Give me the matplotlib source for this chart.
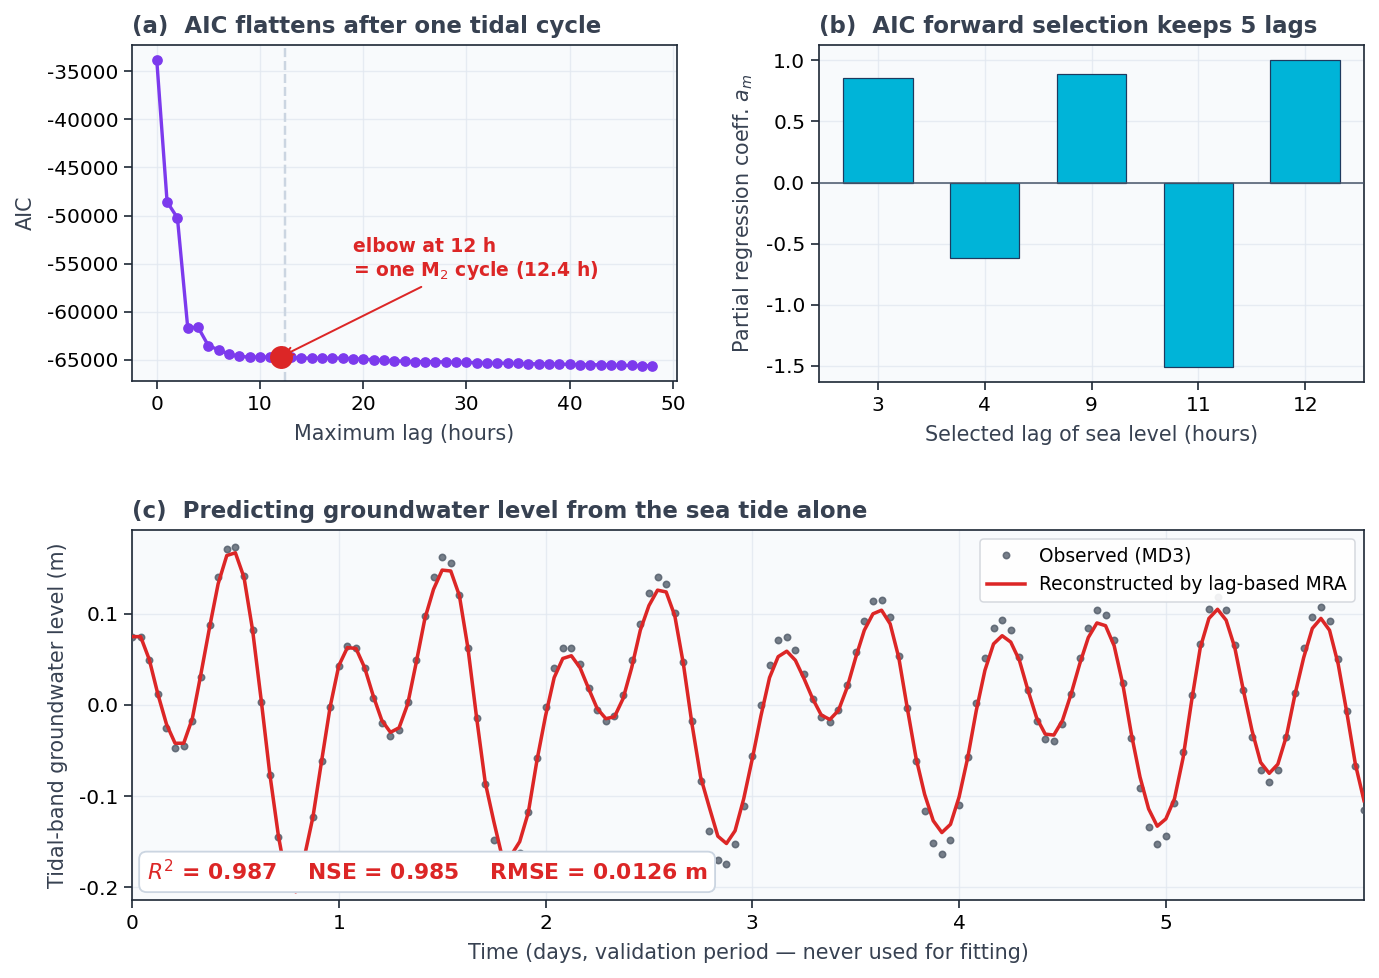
import numpy as np
import matplotlib.pyplot as plt

plt.rcParams['font.family'] = ['DejaVu Sans']
plt.rcParams['axes.unicode_minus'] = False

# panel (a): AIC vs maximum lag
max_lag = list(range(49))
aic = [-33850, -48580, -50240, -61670, -61620, -63540, -63960, -64410, -64650, -64720,
       -64720, -64720, -64700, -64760, -64830, -64830, -64830, -64830, -64830, -64900,
       -64930, -65000, -65070, -65100, -65170, -65200, -65200, -65200, -65240, -65280,
       -65280, -65310, -65350, -65350, -65350, -65380, -65420, -65420, -65420, -65450,
       -65480, -65520, -65520, -65520, -65550, -65590, -65590, -65620, -65620]
elbow_lag = 12
m2_period = 12.4

# panel (b): selected lags and coefficients
sel_lags = ['3', '4', '9', '11', '12']
coefs = [0.856, -0.617, 0.889, -1.506, 1.0]

# panel (c): hourly validation series
hours = np.arange(144)
observed = [0.075, 0.075, 0.049, 0.012, -0.025, -0.047, -0.045, -0.018, 0.031, 0.088,
            0.140, 0.171, 0.173, 0.142, 0.082, 0.003, -0.077, -0.145, -0.200, -0.222,
            -0.185, -0.123, -0.062, -0.002, 0.043, 0.065, 0.063, 0.041, 0.008, -0.020,
            -0.034, -0.027, 0.003, 0.049, 0.098, 0.140, 0.162, 0.156, 0.121, 0.062,
            -0.014, -0.087, -0.148, -0.180, -0.178, -0.162, -0.117, -0.058, -0.002, 0.041,
            0.063, 0.063, 0.045, 0.019, -0.006, -0.018, -0.012, 0.011, 0.049, 0.089,
            0.123, 0.140, 0.133, 0.101, 0.047, -0.018, -0.083, -0.138, -0.170, -0.175,
            -0.153, -0.111, -0.056, 0.000, 0.044, 0.071, 0.075, 0.060, 0.034, 0.007,
            -0.013, -0.019, -0.005, 0.022, 0.058, 0.092, 0.114, 0.115, 0.096, 0.054,
            -0.003, -0.062, -0.116, -0.152, -0.164, -0.148, -0.110, -0.057, 0.002, 0.051,
            0.084, 0.093, 0.082, 0.053, 0.016, -0.018, -0.037, -0.040, -0.021, 0.012,
            0.052, 0.085, 0.104, 0.099, 0.071, 0.024, -0.036, -0.091, -0.134, -0.153,
            -0.144, -0.108, -0.052, 0.011, 0.067, 0.105, 0.119, 0.104, 0.066, 0.016,
            -0.035, -0.071, -0.084, -0.071, -0.035, 0.013, 0.062, 0.097, 0.108, 0.092,
            0.050, -0.007, -0.067, -0.115]
reconstructed = [0.075, 0.075, 0.050, 0.012, -0.021, -0.042, -0.042, -0.015, 0.034, 0.085,
                 0.133, 0.164, 0.167, 0.140, 0.082, 0.005, -0.076, -0.144, -0.195, -0.205,
                 -0.167, -0.123, -0.062, -0.002, 0.043, 0.063, 0.062, 0.041, 0.010, -0.017,
                 -0.030, -0.025, 0.001, 0.047, 0.095, 0.127, 0.148, 0.147, 0.120, 0.062,
                 -0.014, -0.085, -0.128, -0.168, -0.165, -0.150, -0.118, -0.061, -0.012, 0.030,
                 0.051, 0.054, 0.041, 0.018, -0.004, -0.015, -0.013, 0.007, 0.041, 0.082,
                 0.109, 0.126, 0.124, 0.098, 0.045, -0.021, -0.079, -0.112, -0.144, -0.152,
                 -0.138, -0.103, -0.059, -0.012, 0.030, 0.053, 0.059, 0.049, 0.029, 0.007,
                 -0.011, -0.016, -0.006, 0.019, 0.052, 0.082, 0.100, 0.104, 0.089, 0.052,
                 -0.004, -0.058, -0.098, -0.127, -0.140, -0.131, -0.101, -0.058, -0.006, 0.038,
                 0.067, 0.076, 0.069, 0.049, 0.016, -0.014, -0.032, -0.033, -0.017, 0.012,
                 0.045, 0.074, 0.090, 0.087, 0.065, 0.023, -0.032, -0.079, -0.114, -0.133,
                 -0.125, -0.103, -0.058, 0.005, 0.063, 0.095, 0.105, 0.093, 0.063, 0.016,
                 -0.028, -0.063, -0.075, -0.065, -0.034, 0.012, 0.052, 0.084, 0.095, 0.082,
                 0.045, -0.008, -0.065, -0.105]
stats_text = r'$R^2$ = 0.987    NSE = 0.985    RMSE = 0.0126 m'

PURPLE = '#7c3aed'
RED = '#dc2626'
CYAN = '#00b4d8'
TITLE_C = '#374151'
LABEL_C = '#374151'
FACE = '#f8fafc'
GRID_C = '#e2e8f0'
LABEL_FS = 13.5
LPAD = 7


def style(ax, title):
    ax.set_facecolor(FACE)
    ax.grid(True, color=GRID_C, linewidth=0.9, alpha=0.8)
    ax.set_axisbelow(True)
    ax.set_title(title, loc='left', fontsize=15, fontweight='bold', color=TITLE_C, pad=8)
    ax.tick_params(labelsize=13.2, color='#1f2937', length=5, width=1.1, pad=4)
    for sp in ax.spines.values():
        sp.set_color('#1f2937')
        sp.set_linewidth(1.1)


W, H = 1379, 978
fig = plt.figure(figsize=(W / 110, H / 110), dpi=110)
ax1 = fig.add_axes([132 / W, 1 - 381 / H, 545 / W, 336 / H])
ax2 = fig.add_axes([819 / W, 1 - 382 / H, 545 / W, 337 / H])
ax3 = fig.add_axes([132 / W, 1 - 900 / H, 1232 / W, 370 / H])

# (a)
style(ax1, '(a)  AIC flattens after one tidal cycle')
ax1.axvline(m2_period, color='#cbd5e1', linestyle='--', linewidth=1.6, zorder=1)
ax1.plot(max_lag, aic, '-o', color=PURPLE, linewidth=2.2, markersize=6, zorder=3)
ax1.plot([elbow_lag], [aic[elbow_lag]], 'o', color=RED, markersize=14, zorder=4)
ax1.annotate('elbow at 12 h\n= one M$_2$ cycle (12.4 h)',
             xy=(elbow_lag, aic[elbow_lag]), xytext=(19, -54600),
             ha='left', va='center', fontsize=12.3, fontweight='bold', color=RED,
             arrowprops=dict(arrowstyle='->', color=RED, lw=1.3))
ax1.set_yticks([-35000, -40000, -45000, -50000, -55000, -60000, -65000])
ax1.set_xlabel('Maximum lag (hours)', fontsize=LABEL_FS, color=LABEL_C, labelpad=LPAD)
ax1.set_ylabel('AIC', fontsize=LABEL_FS, color=LABEL_C, labelpad=LPAD)

# (b)
style(ax2, '(b)  AIC forward selection keeps 5 lags')
xpos = np.arange(len(sel_lags))
ax2.bar(xpos, coefs, width=0.65, color=CYAN, edgecolor='#1e3a5f', linewidth=0.8, zorder=3)
ax2.axhline(0, color='#475569', linewidth=1.0, zorder=4)
ax2.set_xticks(xpos)
ax2.set_xticklabels(sel_lags)
ax2.set_xlim(-0.55, len(sel_lags) - 0.45)
ax2.set_xlabel('Selected lag of sea level (hours)', fontsize=LABEL_FS, color=LABEL_C,
               labelpad=LPAD)
ax2.set_ylabel('Partial regression coeff. $a_m$', fontsize=LABEL_FS, color=LABEL_C,
               labelpad=LPAD)

# (c)
style(ax3, '(c)  Predicting groundwater level from the sea tide alone')
days = hours / 24.0
ax3.plot(days, observed, 'o', color='#4b5563', markersize=4.2, alpha=0.75,
         label='Observed (MD3)', zorder=3)
ax3.plot(days, reconstructed, '-', color=RED, linewidth=2.3,
         label='Reconstructed by lag-based MRA', zorder=4)
ax3.set_xlim(0, days[-1])
ax3.set_ylim(-0.214, 0.192)
ax3.set_yticks([-0.2, -0.1, 0.0, 0.1])
ax3.set_xlabel('Time (days, validation period \u2014 never used for fitting)',
               fontsize=LABEL_FS, color=LABEL_C, labelpad=LPAD)
ax3.set_ylabel('Tidal-band groundwater level (m)', fontsize=LABEL_FS, color=LABEL_C,
               labelpad=LPAD)
leg = ax3.legend(loc='upper right', fontsize=12.2, framealpha=0.9, edgecolor='#d1d5db')
leg.set_zorder(6)
ax3.text(0.012, 0.076, stats_text, transform=ax3.transAxes, ha='left', va='center',
         fontsize=14.3, fontweight='bold', color=RED, zorder=7,
         bbox=dict(boxstyle='round,pad=0.35', facecolor='white', edgecolor='#cbd5e1',
                   linewidth=1.2))

fig.savefig('out.png', dpi=110)
